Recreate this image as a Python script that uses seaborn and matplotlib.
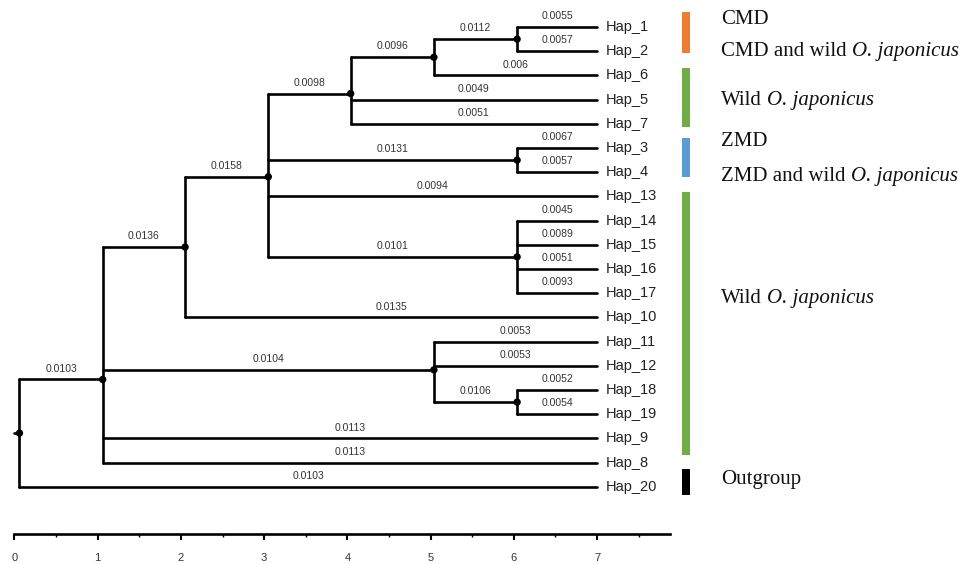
import numpy as np
import pandas as pd
import matplotlib.pyplot as plt
import seaborn as sns

# leaf order, top to bottom
leaves = ["Hap_1", "Hap_2", "Hap_6", "Hap_5", "Hap_7", "Hap_3", "Hap_4",
          "Hap_13", "Hap_14", "Hap_15", "Hap_16", "Hap_17", "Hap_10",
          "Hap_11", "Hap_12", "Hap_18", "Hap_19", "Hap_9", "Hap_8", "Hap_20"]
leaf_x = 7.0

# internal nodes and their depth on the scale axis
nodes = ["root", "A", "B", "D", "E", "H", "I", "F", "G", "C", "J"]
node_x = [0.06, 1.06, 2.05, 3.05, 4.04, 5.04, 6.04, 6.04, 6.04, 5.04, 6.04]
children = {
    "root": ["A", "Hap_20"],
    "A": ["B", "C", "Hap_9", "Hap_8"],
    "B": ["D", "Hap_10"],
    "D": ["E", "F", "Hap_13", "G"],
    "E": ["H", "Hap_5", "Hap_7"],
    "H": ["I", "Hap_6"],
    "I": ["Hap_1", "Hap_2"],
    "F": ["Hap_3", "Hap_4"],
    "G": ["Hap_14", "Hap_15", "Hap_16", "Hap_17"],
    "C": ["Hap_11", "Hap_12", "J"],
    "J": ["Hap_18", "Hap_19"],
}
# branch length labels (on the branch leading to each node)
branch_len = {
    "A": "0.0103", "Hap_20": "0.0103",
    "B": "0.0136", "C": "0.0104", "Hap_9": "0.0113", "Hap_8": "0.0113",
    "D": "0.0158", "Hap_10": "0.0135",
    "E": "0.0098", "F": "0.0131", "Hap_13": "0.0094", "G": "0.0101",
    "H": "0.0096", "Hap_5": "0.0049", "Hap_7": "0.0051",
    "I": "0.0112", "Hap_6": "0.006",
    "Hap_1": "0.0055", "Hap_2": "0.0057",
    "Hap_3": "0.0067", "Hap_4": "0.0057",
    "Hap_14": "0.0045", "Hap_15": "0.0089", "Hap_16": "0.0051", "Hap_17": "0.0093",
    "Hap_11": "0.0053", "Hap_12": "0.0053", "J": "0.0106",
    "Hap_18": "0.0052", "Hap_19": "0.0054",
}

# group colour bars (span in leaf rows)
group_colors = ["#ED7D31", "#70AD47", "#5B9BD5", "#70AD47", "#000000"]
bar_top = [-0.61, 1.68, 4.57, 6.82, 18.26]
bar_bottom = [1.09, 4.12, 6.19, 17.69, 19.34]

# group legend text: plain part, italic part, row position
legend_plain = ["CMD", "CMD and wild", "Wild", "ZMD", "ZMD and wild", "Wild", "Outgroup"]
legend_italic = ["", "O. japonicus", "O. japonicus", "", "O. japonicus", "O. japonicus", ""]
legend_row = [-0.33, 1.03, 3.02, 4.75, 6.16, 11.2, 18.7]

# ---- layout of the tree ----
xpos = dict(zip(nodes, node_x))
ypos = {}
for i, name in enumerate(leaves):
    xpos[name] = leaf_x
    ypos[name] = i


def node_y(n):
    if n not in ypos:
        ypos[n] = np.mean([node_y(c) for c in children[n]])
    return ypos[n]


node_y("root")

segs = []
sid = 0
for n, kids in children.items():
    ys = [ypos[c] for c in kids]
    segs += [(sid, xpos[n], min(ys)), (sid, xpos[n], max(ys))]
    sid += 1
    for c in kids:
        segs += [(sid, xpos[n], ypos[c]), (sid, xpos[c], ypos[c])]
        sid += 1
segs += [(sid, 0.0, ypos["root"]), (sid, xpos["root"], ypos["root"])]
df = pd.DataFrame(segs, columns=["seg", "x", "y"])
dots = pd.DataFrame({"x": [xpos[n] for n in nodes], "y": [ypos[n] for n in nodes]})

sns.set_theme(style="white")
plt.rcParams["font.family"] = ["Liberation Sans", "DejaVu Sans"]

fig = plt.figure(figsize=(9.64, 5.64), dpi=100)
ax = fig.add_axes([0, 0, 1, 1])

sns.lineplot(data=df, x="x", y="y", units="seg", estimator=None, sort=False,
             color="black", lw=1.9, ax=ax)
sns.scatterplot(data=dots, x="x", y="y", color="black", s=28, edgecolor="none",
                zorder=3, ax=ax)

for n, lab in branch_len.items():
    parent = [p for p, k in children.items() if n in k][0]
    xm = (xpos[parent] + xpos[n]) / 2
    ax.text(xm, ypos[n] - 0.45, lab, ha="center", va="center",
            fontsize=7.5, color="#333333")

for name in leaves:
    ax.text(leaf_x + 0.11, ypos[name], name, ha="left", va="center",
            fontsize=10.5, color="#222222")

for top, bot, col in zip(bar_top, bar_bottom, group_colors):
    ax.bar(8.07, bot - top, bottom=top, width=0.09, color=col, linewidth=0)

for plain, ital, row in zip(legend_plain, legend_italic, legend_row):
    t = ax.text(8.49, row, plain, ha="left", va="center", fontsize=15,
                family="Liberation Serif", color="#111111")
    if ital:
        ax.annotate(ital, xy=(1, 0), xycoords=t, xytext=(3.8, 0),
                    textcoords="offset points", ha="left", va="bottom",
                    fontsize=15, family="Liberation Serif", style="italic",
                    color="#111111")

ax.set_xlim(-0.174, 11.41)
ax.set_ylim(22.19, -1.116)
ax.set_xlabel("")
ax.set_ylabel("")
ax.set_yticks([])
for s in ["top", "right", "left"]:
    ax.spines[s].set_visible(False)
ax.spines["bottom"].set_position(("data", 20.95))
ax.spines["bottom"].set_bounds(0, 7.88)
ax.spines["bottom"].set_color("black")
ax.spines["bottom"].set_linewidth(1.9)
ax.set_xticks(range(8))
ax.set_xticks(np.arange(0.5, 8, 1), minor=True)
ax.tick_params(axis="x", which="major", direction="out", length=4, width=1.5,
               color="black", pad=10, labelsize=8, labelcolor="#333333", bottom=True)
ax.tick_params(axis="x", which="minor", direction="out", length=2.5, width=1,
               color="black", bottom=True)

fig.savefig("out.png", dpi=100)
